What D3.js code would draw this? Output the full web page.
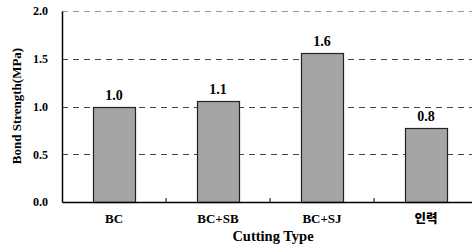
<!DOCTYPE html>
<html><head><meta charset="utf-8">
<script src="https://cdn.jsdelivr.net/npm/d3@7"></script>
<style>
html,body{margin:0;padding:0;background:#fff;}
svg{display:block;}
</style></head>
<body><svg id="c" width="472" height="247"></svg>
<script>
const categories = ["BC","BC+SB","BC+SJ","인력"];
const values = [1.0, 1.06, 1.56, 0.77];
const valueLabels = ["1.0","1.1","1.6","0.8"];
const yTicks = [0.0, 0.5, 1.0, 1.5, 2.0];

const SERIF = "'Liberation Serif', 'Times New Roman', 'DejaVu Serif', serif";
const KR = "'Noto Sans CJK KR', sans-serif";
const svg = d3.select("#c");
const m = {l:62, r:478, t:11, b:202};
const x = d3.scaleBand().domain(categories).range([m.l, m.r]).paddingInner(0.6).paddingOuter(0.3);
const xb = d3.scaleBand().domain(categories).range([m.l, m.r]);
const y = d3.scaleLinear().domain([0,2]).range([m.b, m.t]);

// gridlines
svg.append("g").selectAll("line").data(yTicks.filter(d=>d>0)).join("line")
  .attr("x1", m.l).attr("x2", 472)
  .attr("y1", d=>Math.round(y(d))+0.5).attr("y2", d=>Math.round(y(d))+0.5)
  .attr("stroke", d=> d===2 ? "#999" : "#444").attr("stroke-width",1)
  .attr("stroke-dasharray","6,5");

// bars
svg.append("g").selectAll("rect").data(categories).join("rect")
  .attr("x", d=>Math.round(x(d))+0.5)
  .attr("y", (d,i)=>Math.round(y(values[i]))+0.5)
  .attr("width", Math.round(x.bandwidth()))
  .attr("height", (d,i)=>Math.round(y(0))-Math.round(y(values[i])))
  .attr("fill","#a5a5a5").attr("stroke","#222").attr("stroke-width",1.2);

// value labels
svg.append("g").selectAll("text").data(categories).join("text")
  .attr("x", d=>x(d)+x.bandwidth()/2)
  .attr("y", (d,i)=>y(values[i])-7)
  .attr("text-anchor","middle")
  .attr("font-family",SERIF).attr("font-weight","bold").attr("font-size",14)
  .text((d,i)=>valueLabels[i]);

// axes
const yAxis = d3.axisLeft(y).tickValues(yTicks).tickFormat(d3.format(".1f")).tickSize(0).tickPadding(14);
const gy = svg.append("g").attr("transform",`translate(${m.l},0)`).call(yAxis);
gy.attr("font-family",SERIF);
gy.select(".domain").attr("stroke","#000").attr("stroke-width",1.5);
gy.selectAll("text").attr("font-family",SERIF).attr("font-weight","bold").attr("font-size",12).attr("fill","#000");

const xAxis = d3.axisBottom(xb).tickSize(0).tickPadding(12);
const gx = svg.append("g").attr("transform",`translate(0,${m.b})`).call(xAxis);
gx.attr("font-family",SERIF);
gx.select(".domain").attr("stroke","#000").attr("stroke-width",1.5);
gx.selectAll("text")
  .attr("font-family", d=> d==="인력" ? KR : SERIF)
  .attr("font-weight", d=> d==="인력" ? 900 : "bold")
  .attr("font-size", d=> d==="인력" ? 12.5 : 13).attr("fill","#000");

// category boundary ticks (inward)
svg.append("g").selectAll("line").data(categories.slice(1)).join("line")
  .attr("x1", d=>xb(d)).attr("x2", d=>xb(d))
  .attr("y1", m.b).attr("y2", m.b-4)
  .attr("stroke","#000").attr("stroke-width",1);

// axis titles
svg.append("text").attr("x", (m.l+472)/2 + 6).attr("y", 241).attr("text-anchor","middle")
  .attr("font-family",SERIF).attr("font-weight","bold").attr("font-size",14.5)
  .text("Cutting Type");
svg.append("text").attr("transform",`translate(21,106) rotate(-90)`).attr("text-anchor","middle")
  .attr("font-family",SERIF).attr("font-weight","bold").attr("font-size",13)
  .text("Bond Strength(MPa)");
</script></body></html>
